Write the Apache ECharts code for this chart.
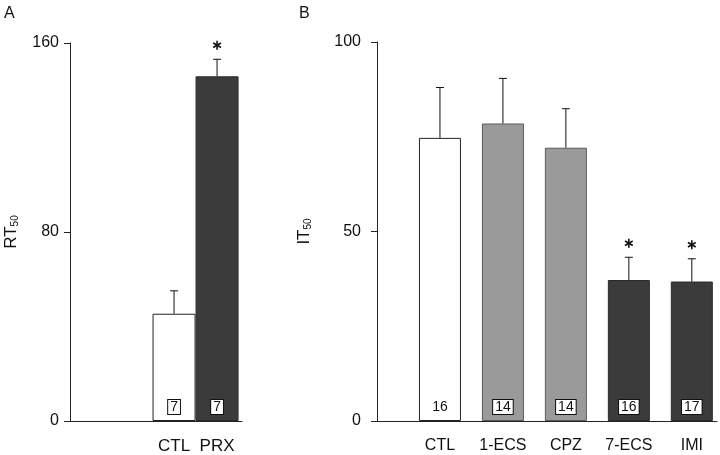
<!DOCTYPE html>
<html><head><meta charset="utf-8">
<script src="https://cdn.jsdelivr.net/npm/echarts@6/dist/echarts.min.js"></script>
<style>html,body{margin:0;padding:0;background:#fff}#c{width:720px;height:455px}</style>
</head><body><div id="c"></div>
<script>
// Panel A
var catsA = ['CTL', 'PRX'];
var meanA = [45.4, 145.9];
var seA = [9.7, 7.2];
var nA = ['7', '7'];
var sigA = [false, true];
var groupA = ['white', 'dark'];
var ticksA = [0, 80, 160];
// Panel B
var catsB = ['CTL', '1-ECS', 'CPZ', '7-ECS', 'IMI'];
var meanB = [74.7, 78.5, 72.1, 37.2, 36.8];
var seB = [13.3, 11.9, 10.3, 6.0, 6.0];
var nB = ['16', '14', '14', '16', '17'];
var boxedB = [false, true, true, true, true];
var sigB = [false, false, false, true, true];
var groupB = ['white', 'gray', 'gray', 'dark', 'dark'];
var ticksB = [0, 50, 100];

var FONT = '"Liberation Sans", Arial, sans-serif';
var fills = { white: '#ffffff', gray: '#9a9a9a', dark: '#3b3b3b' };
var borders = { white: '#222222', gray: '#5a5a5a', dark: '#2a2a2a' };

function barData(means, groups, ns, boxed) {
  return means.map(function (v, i) {
    var b = boxed ? boxed[i] : true;
    return {
      value: [i, v],
      itemStyle: { color: fills[groups[i]], borderColor: borders[groups[i]], borderWidth: 1 },
      label: {
        show: true, position: 'insideBottom', distance: 7,
        formatter: ns[i], color: '#111', fontFamily: FONT, fontSize: 14,
        backgroundColor: b ? '#fff' : 'transparent',
        borderColor: b ? '#111' : 'transparent', borderWidth: 1,
        padding: [1, 2, 0, 2], lineHeight: 13
      }
    };
  });
}
function errData(means, ses) {
  return means.map(function (v, i) { return [i, v, v + ses[i]]; });
}
function sigData(means, ses, sig) {
  var out = [];
  means.forEach(function (v, i) { if (sig[i]) out.push([i, v + ses[i]]); });
  return out;
}
function renderErr(params, api) {
  var x = api.value(0);
  var p0 = api.coord([x, api.value(1)]);
  var p1 = api.coord([x, api.value(2)]);
  var st = { stroke: '#111', lineWidth: 1 };
  return { type: 'group', children: [
    { type: 'line', shape: { x1: p0[0], y1: p0[1], x2: p1[0], y2: p1[1] }, style: st },
    { type: 'line', shape: { x1: p1[0] - 4, y1: p1[1], x2: p1[0] + 4, y2: p1[1] }, style: st }
  ]};
}
function renderStar(params, api) {
  var p = api.coord([api.value(0), api.value(1)]);
  var cx = p[0], cy = p[1] - 14, r = 4.5;
  var st = { stroke: '#111', lineWidth: 1.6 };
  var ch = [];
  [90, 30, 150].forEach(function (a) {
    var rad = a * Math.PI / 180;
    var dx = r * Math.cos(rad), dy = r * Math.sin(rad);
    ch.push({ type: 'line', shape: { x1: cx - dx, y1: cy - dy, x2: cx + dx, y2: cy + dy }, style: st });
  });
  return { type: 'group', children: ch };
}

function axLine() { return { show: true, onZero: false, lineStyle: { color: '#222', width: 1 } }; }
function lbl(size) { return { color: '#111', fontFamily: FONT, fontSize: size }; }
var letterStyle = { fontFamily: FONT, fontSize: 16, fontWeight: 'normal', color: '#111' };

var option = {
  backgroundColor: '#fff',
  animation: false,
  title: [
    { text: 'A', left: 4, top: 6, padding: 0, textStyle: letterStyle },
    { text: 'B', left: 299, top: 6, padding: 0, textStyle: letterStyle }
  ],
  grid: [
    { left: 70, top: 43, width: 172, height: 378 },
    { left: 377, top: 42, width: 340, height: 379 }
  ],
  xAxis: [
    { type: 'value', gridIndex: 0, min: -2.42, max: 1.58, splitLine: { show: false },
      axisLine: axLine(), axisTick: { show: false },
      axisLabel: Object.assign({ customValues: [0, 1], margin: 17, formatter: function (v) { return catsA[Math.round(v)] || ''; } }, lbl(17)) },
    { type: 'value', gridIndex: 1, min: -1, max: 4.4, splitLine: { show: false },
      axisLine: axLine(), axisTick: { show: false },
      axisLabel: Object.assign({ customValues: [0, 1, 2, 3, 4], margin: 17, formatter: function (v) { return catsB[Math.round(v)] || ''; } }, lbl(16)) }
  ],
  yAxis: [
    { type: 'value', gridIndex: 0, min: 0, max: 160, interval: 80, splitLine: { show: false },
      axisLine: axLine(), axisTick: { show: true, length: 6, lineStyle: { color: '#222' } },
      axisLabel: Object.assign({ margin: 11 }, lbl(16)),
      name: 'RT{s|50}', nameLocation: 'middle', nameRotate: 90, nameGap: 50,
      nameTextStyle: { fontFamily: FONT, fontSize: 17, color: '#111',
        rich: { s: { fontFamily: FONT, fontSize: 10, color: '#111', padding: [8, 0, 0, 0] } } } },
    { type: 'value', gridIndex: 1, min: 0, max: 100, interval: 50, splitLine: { show: false },
      axisLine: axLine(), axisTick: { show: true, length: 6, lineStyle: { color: '#222' } },
      axisLabel: Object.assign({ margin: 16 }, lbl(16)),
      name: 'IT{s|50}', nameLocation: 'middle', nameRotate: 90, nameGap: 64,
      nameTextStyle: { fontFamily: FONT, fontSize: 17, color: '#111',
        rich: { s: { fontFamily: FONT, fontSize: 10, color: '#111', padding: [8, 0, 0, 0] } } } }
  ],
  series: [
    { type: 'bar', xAxisIndex: 0, yAxisIndex: 0, barWidth: 43, data: barData(meanA, groupA, nA, null) },
    { type: 'custom', xAxisIndex: 0, yAxisIndex: 0, renderItem: renderErr, data: errData(meanA, seA), z: 5 },
    { type: 'custom', xAxisIndex: 0, yAxisIndex: 0, renderItem: renderStar, data: sigData(meanA, seA, sigA), z: 5 },
    { type: 'bar', xAxisIndex: 1, yAxisIndex: 1, barWidth: 42, data: barData(meanB, groupB, nB, boxedB) },
    { type: 'custom', xAxisIndex: 1, yAxisIndex: 1, renderItem: renderErr, data: errData(meanB, seB), z: 5 },
    { type: 'custom', xAxisIndex: 1, yAxisIndex: 1, renderItem: renderStar, data: sigData(meanB, seB, sigB), z: 5 }
  ]
};
var chart = echarts.init(document.getElementById('c'), null, { renderer: 'canvas' });
chart.setOption(option);
</script></body></html>
